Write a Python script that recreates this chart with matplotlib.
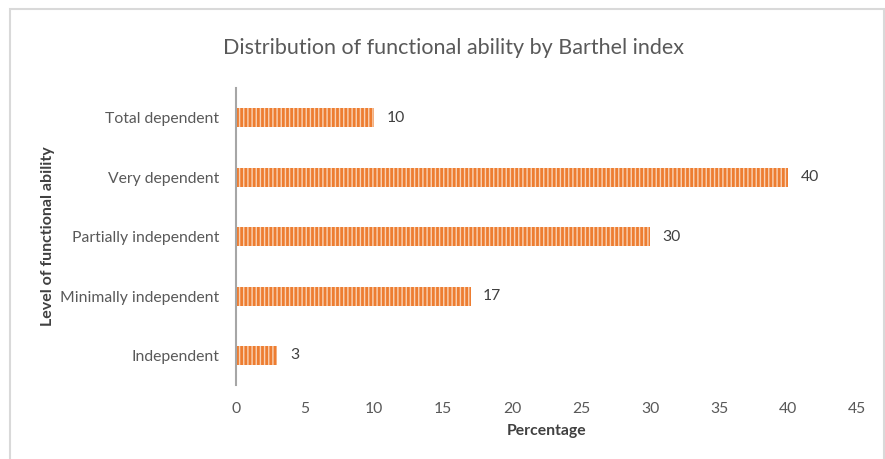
import matplotlib
matplotlib.use("Agg")
import matplotlib.pyplot as plt
from matplotlib.patches import Rectangle

# data (top to bottom as shown)
categories = ["Total dependent", "Very dependent", "Partially independent",
              "Minimally independent", "Independent"]
percentages = [10, 40, 30, 17, 3]
x_ticks = [0, 5, 10, 15, 20, 25, 30, 35, 40, 45]

plt.rcParams["font.family"] = ["Lato", "DejaVu Sans"]
plt.rcParams["hatch.linewidth"] = 1.0

fig = plt.figure(figsize=(8.85, 4.59), dpi=100)
ax = fig.add_axes([0.2667, 0.161, 0.7017, 0.647])

y_pos = list(range(len(categories)))
bars = ax.barh(y_pos, percentages, height=0.32, color="#ed7d31",
               edgecolor="#f9d2b5", hatch="||||", linewidth=0)

for yp, val in zip(y_pos, percentages):
    ax.text(val + 0.9, yp, str(val), va="center", ha="left",
            fontsize=11.3, color="#404040")

ax.set_xlim(0, 45)
ax.set_ylim(-0.5, len(categories) - 0.5)
ax.invert_yaxis()
ax.set_yticks(y_pos)
ax.set_yticklabels(categories)
ax.set_xticks(x_ticks)
ax.tick_params(axis="both", length=0, labelsize=11.3, colors="#595959")
ax.tick_params(axis="y", pad=12)
ax.tick_params(axis="x", pad=12)

for side in ["top", "right", "bottom"]:
    ax.spines[side].set_visible(False)
ax.spines["left"].set_color("#a6a6a6")
ax.spines["left"].set_linewidth(1.5)

ax.set_xlabel("Percentage", fontsize=11.3, fontweight="bold",
              color="#404040", labelpad=6)
ax.set_ylabel("Level of functional ability", fontsize=11.5,
              fontweight="bold", color="#404040", labelpad=4)

fig.text(0.512, 0.895, "Distribution of functional ability by Barthel index",
         ha="center", va="center", fontsize=15.5, color="#595959")

# chart border
fig.patches.append(Rectangle((10 / 885, -0.1), 874 / 885, 1.1 - 9 / 459,
                             transform=fig.transFigure, fill=False,
                             edgecolor="#d9d9d9", linewidth=1.5))

fig.savefig("out.png", dpi=100, facecolor="white")
